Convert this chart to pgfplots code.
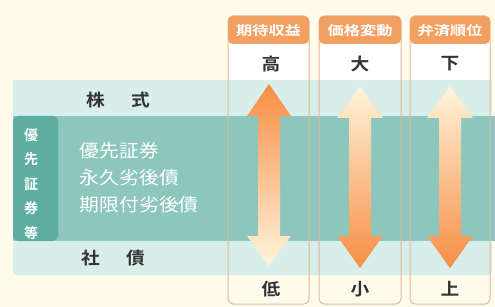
\documentclass[border=0pt]{standalone}
\usepackage{pgfplots}
\pgfplotsset{compat=1.18}
\usepackage{fontspec}
\newfontfamily\jp{Noto Sans CJK JP}
\newfontfamily\jpb{Noto Sans CJK JP Bold}
\definecolor{bg}{HTML}{FFFBEC}
\definecolor{pale}{HTML}{D8EEEA}
\definecolor{teal}{HTML}{8CC6BD}
\definecolor{dteal}{HTML}{5DAEA0}
\definecolor{hdr}{HTML}{F2A062}
\definecolor{brd}{HTML}{E2B89A}
\definecolor{aor}{HTML}{F78E44}
\definecolor{apl}{HTML}{FFF4DA}
\begin{document}
\begin{tikzpicture}
\begin{axis}[
  width=495pt, height=307pt, scale only axis,
  xmin=0, xmax=495, ymin=0, ymax=307, y dir=reverse,
  hide axis, clip=true,
]
% background
\addplot[fill=bg, draw=none] coordinates {(0,0) (495,0) (495,307) (0,307)} -- cycle;
% bands
\addplot[fill=pale, draw=none] coordinates {(13,80) (492,80) (492,117) (13,117)} -- cycle;
\addplot[fill=teal, draw=none] coordinates {(13,116) (495,116) (495,241) (13,241)} -- cycle;
\addplot[fill=pale, draw=none, rounded corners=4pt] coordinates {(13,241) (492,241) (492,275) (13,275)} -- cycle;
\addplot[fill=dteal, draw=none, rounded corners=5pt] coordinates {(58,116) (13,116) (13,241) (58,241)} -- cycle;
% column fills (top and bottom label areas)
\addplot[fill=white, draw=none] coordinates {(228,44) (309,44) (309,80) (228,80)} -- cycle;
\addplot[fill=white, draw=none] coordinates {(319,44) (401,44) (401,80) (319,80)} -- cycle;
\addplot[fill=white, draw=none] coordinates {(410,44) (490,44) (490,80) (410,80)} -- cycle;
\addplot[fill=bg, draw=none] coordinates {(228,275) (309,275) (309,304) (228,304)} -- cycle;
\addplot[fill=bg, draw=none] coordinates {(319,275) (401,275) (401,304) (319,304)} -- cycle;
\addplot[fill=bg, draw=none] coordinates {(410,275) (490,275) (490,304) (410,304)} -- cycle;
% arrows
\addplot[draw=none, top color=aor, middle color=aor!75!apl, bottom color=apl] coordinates {
 (269,84) (291,116) (280,116) (280,236) (291,236) (269,266) (247,236) (258,236) (258,116) (247,116)} -- cycle;
\addplot[draw=none, top color=apl, middle color=aor!45!apl, bottom color=aor] coordinates {
 (360,86) (383,118) (371,118) (371,236) (383,236) (360,268) (337,236) (349,236) (349,118) (337,118)} -- cycle;
\addplot[draw=none, top color=apl, middle color=aor!45!apl, bottom color=aor] coordinates {
 (450,86) (473,118) (461,118) (461,236) (473,236) (450,268) (427,236) (439,236) (439,118) (427,118)} -- cycle;
% column outlines
\addplot[draw=brd, line width=1pt, rounded corners=5pt] coordinates {(228,16) (309,16) (309,304) (228,304)} -- cycle;
\addplot[draw=brd, line width=1pt, rounded corners=5pt] coordinates {(319,16) (401,16) (401,304) (319,304)} -- cycle;
\addplot[draw=brd, line width=1pt, rounded corners=5pt] coordinates {(410,16) (490,16) (490,304) (410,304)} -- cycle;
% headers
\addplot[fill=hdr, draw=none, rounded corners=5pt] coordinates {(228,44) (228,16) (309,16) (309,44)} -- cycle;
\addplot[fill=hdr, draw=none, rounded corners=5pt] coordinates {(319,44) (319,16) (401,16) (401,44)} -- cycle;
\addplot[fill=hdr, draw=none, rounded corners=5pt] coordinates {(410,44) (410,16) (490,16) (490,44)} -- cycle;
% texts
\tikzset{hd/.style={white, xscale=1.25, font=\jpb\fontsize{13}{14}\selectfont},
         lb/.style={text=black!80, xscale=1.1, font=\jpb\fontsize{17}{18}\selectfont}}
\node[hd] at (axis cs:268.5,31) {期待収益};
\node[hd] at (axis cs:360,31) {価格変動};
\node[hd] at (axis cs:450,31) {弁済順位};
\node[lb] at (axis cs:271,64) {高};
\node[lb] at (axis cs:360,64) {大};
\node[lb] at (axis cs:450,64) {下};
\node[lb] at (axis cs:271,289) {低};
\node[lb] at (axis cs:360,289) {小};
\node[lb] at (axis cs:450,289) {上};
\node[lb] at (axis cs:118,100) {株\hspace{1.4em}式};
\node[lb] at (axis cs:113,258) {社\hspace{1.4em}債};
\node[white, anchor=west, xscale=1.1, font=\jp\fontsize{18}{19}\selectfont] at (axis cs:76,151) {優先証券};
\node[white, anchor=west, xscale=1.1, font=\jp\fontsize{18}{19}\selectfont] at (axis cs:76,178) {永久劣後債};
\node[white, anchor=west, xscale=1.1, font=\jp\fontsize{18}{19}\selectfont] at (axis cs:76,205) {期限付劣後債};
\node[white, align=center, font=\jpb\fontsize{14}{24.5}\selectfont] at (axis cs:31,184) {優\\先\\証\\券\\等};
\end{axis}
\end{tikzpicture}
\end{document}
